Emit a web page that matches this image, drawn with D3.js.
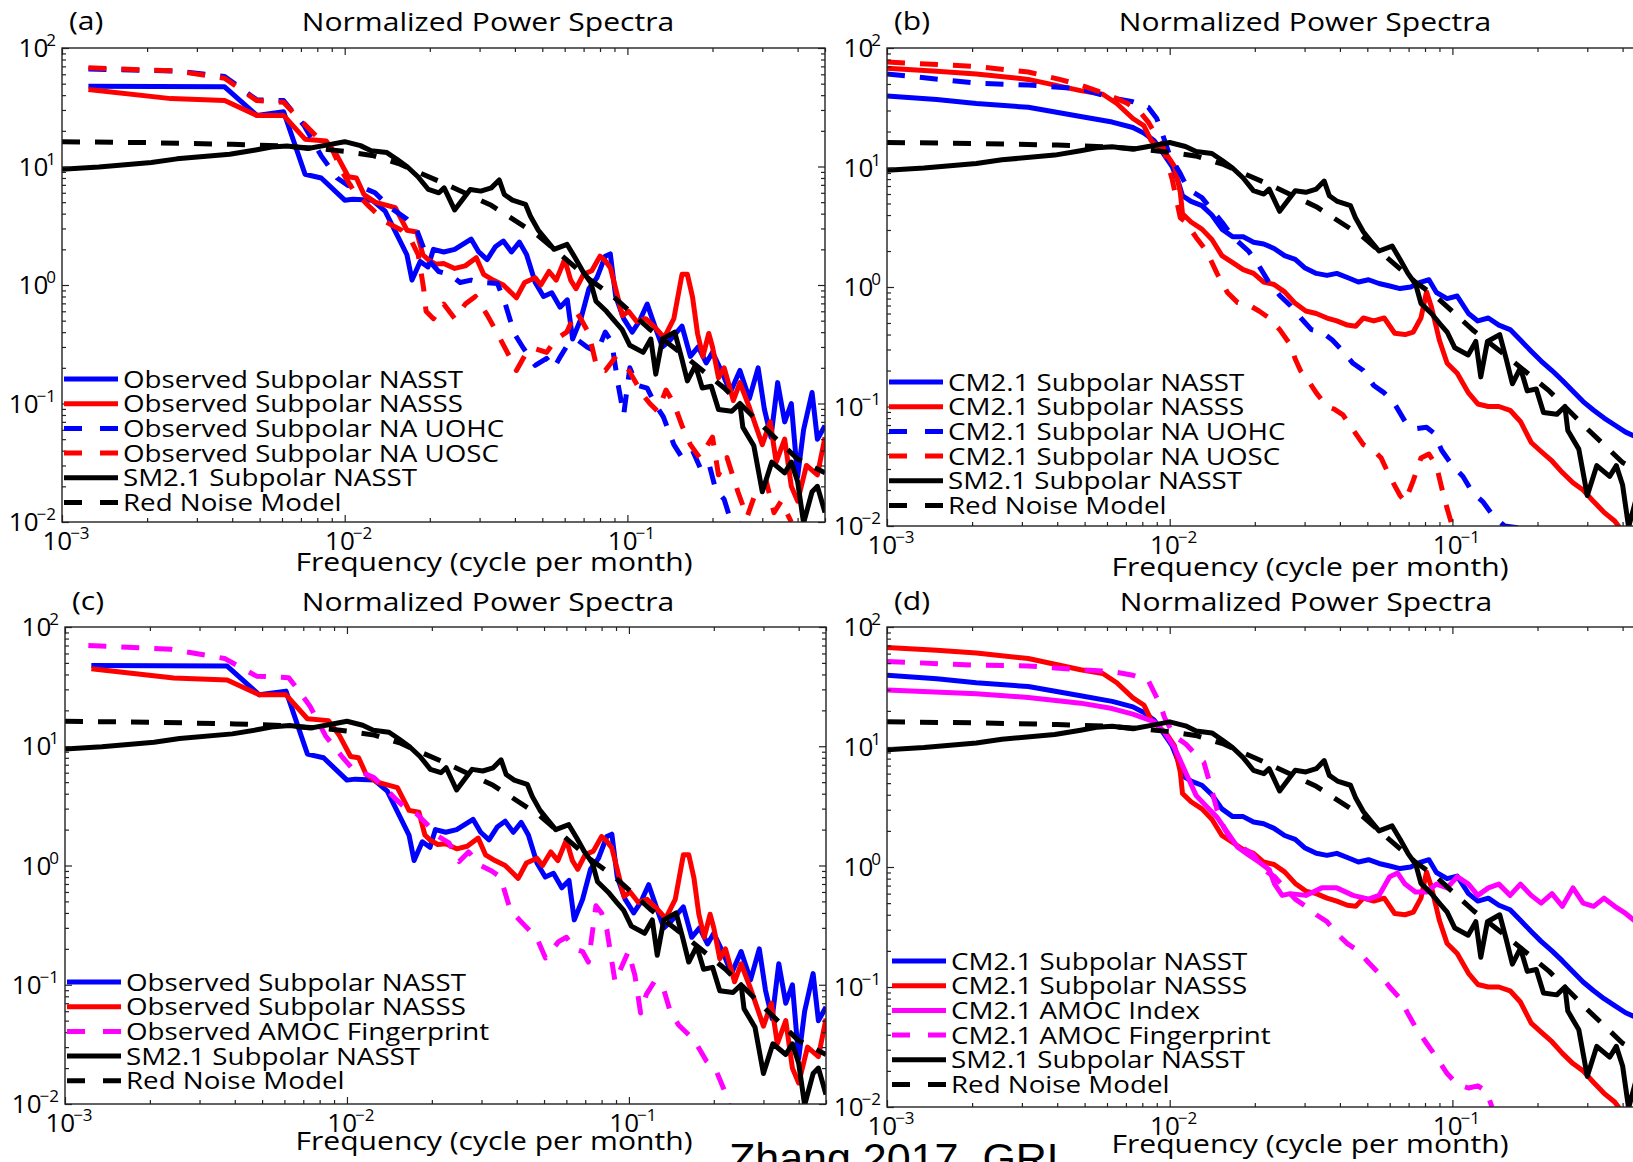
<!DOCTYPE html>
<html>
<head>
<meta charset="utf-8">
<script src="https://cdn.jsdelivr.net/npm/d3@7"></script>
<style>
  html, body { margin: 0; padding: 0; background: #fff; overflow: hidden; }
  svg { display: block; font-family: "Open Sans", sans-serif; }
</style>
</head>
<body>
<svg id="fig" width="1633" height="1162"></svg>
<script>
// ---- data: [frequency (cycle/month), normalized power] ----

const RED_NOISE = [[0.001,16.2],[0.002,15.9],[0.004,15.4],[0.006,14.9],[0.008,14.2],[0.01,13.4],[0.0125,12.4],[0.0155,10.6],[0.0175,9.3],[0.0225,7.2],[0.033,4.7],[0.048,2.65],[0.074,1.1],[0.088,0.82],[0.119,0.43],[0.16,0.25],[0.22,0.135],[0.3,0.065],[0.4,0.034],[0.5,0.026]];

const SM21_NASST = [[0.001,9.5],[0.00135,9.9],[0.00207,10.8],[0.00255,11.6],[0.00392,12.7],[0.00484,13.8],[0.00551,14.6],[0.00626,14.9],[0.00741,14.2],[0.0088,15.3],[0.01,16.2],[0.01137,15.0],[0.0124,13.6],[0.0141,13.1],[0.0153,11.5],[0.01668,9.9],[0.01816,8.2],[0.01977,6.4],[0.02154,6.0],[0.02248,6.6],[0.02448,4.3],[0.0278,6.4],[0.0303,6.2],[0.033,6.6],[0.0352,7.7],[0.0367,5.8],[0.0392,5.2],[0.0436,4.8],[0.0454,3.8],[0.0484,2.9],[0.0516,2.4],[0.055,2.0],[0.0612,2.2],[0.0653,1.7],[0.0696,1.3],[0.0742,1.05],[0.0774,0.73],[0.0843,0.6],[0.0905,0.49],[0.0958,0.42],[0.102,0.31],[0.1137,0.27],[0.121,0.35],[0.126,0.177],[0.133,0.35],[0.147,0.4],[0.155,0.25],[0.163,0.155],[0.174,0.21],[0.184,0.135],[0.198,0.14],[0.21,0.089],[0.234,0.086],[0.25,0.1],[0.256,0.063],[0.28,0.044],[0.3,0.018],[0.324,0.032],[0.36,0.026],[0.38,0.032],[0.4,0.022],[0.42,0.0098],[0.45,0.018],[0.47,0.02],[0.5,0.012]];

const OBS_NASST = [[0.00124,47.5],[0.00376,47],[0.00489,27],[0.00608,29],[0.00724,8.6],[0.00826,8.0],[0.01,5.2],[0.0107,5.3],[0.0125,5.2],[0.0139,4.2],[0.0155,2.5],[0.0166,1.8],[0.0173,1.1],[0.0185,1.58],[0.0197,1.42],[0.0206,2.0],[0.0224,1.9],[0.0245,2.0],[0.028,2.44],[0.0298,1.9],[0.0319,1.64],[0.0341,2.1],[0.0364,2.35],[0.0389,1.9],[0.0415,2.3],[0.044,1.8],[0.0472,1.05],[0.0505,0.8],[0.054,0.86],[0.0578,0.65],[0.0613,0.75],[0.064,0.35],[0.0685,0.52],[0.0731,0.93],[0.078,1.15],[0.0835,1.75],[0.087,1.83],[0.0909,0.8],[0.097,0.52],[0.104,0.4],[0.11,0.49],[0.1175,0.69],[0.125,0.45],[0.133,0.3],[0.141,0.34],[0.156,0.45],[0.167,0.25],[0.178,0.3],[0.19,0.22],[0.2,0.27],[0.217,0.18],[0.231,0.124],[0.25,0.19],[0.27,0.11],[0.29,0.2],[0.305,0.09],[0.322,0.052],[0.34,0.15],[0.36,0.07],[0.38,0.1],[0.4,0.024],[0.42,0.06],[0.45,0.124],[0.47,0.05],[0.5,0.065]];

const OBS_NASSS = [[0.00124,44.7],[0.00243,37.4],[0.00376,36],[0.00489,27],[0.00608,27],[0.00724,17],[0.0086,16.4],[0.0094,12.3],[0.0103,8.2],[0.011,8.0],[0.0117,5.8],[0.0128,5.0],[0.0151,4.5],[0.0166,2.9],[0.018,2.8],[0.0189,1.8],[0.0197,1.64],[0.021,1.5],[0.0224,1.52],[0.0245,1.38],[0.0267,1.45],[0.0292,1.7],[0.031,1.23],[0.0335,1.1],[0.0364,1.0],[0.0405,0.78],[0.0433,1.05],[0.0472,1.15],[0.0494,1.0],[0.0528,1.3],[0.056,1.1],[0.06,1.64],[0.063,1.1],[0.0658,0.93],[0.0699,1.23],[0.0748,1.32],[0.08,1.75],[0.0835,1.6],[0.087,1.4],[0.0909,0.93],[0.096,0.55],[0.101,0.6],[0.108,0.49],[0.116,0.52],[0.125,0.44],[0.135,0.36],[0.146,0.52],[0.156,1.23],[0.163,1.23],[0.17,0.79],[0.177,0.39],[0.185,0.25],[0.194,0.39],[0.2,0.3],[0.21,0.165],[0.22,0.2],[0.237,0.106],[0.25,0.15],[0.27,0.093],[0.3,0.045],[0.32,0.07],[0.336,0.032],[0.36,0.05],[0.38,0.02],[0.4,0.015],[0.43,0.03],[0.47,0.025],[0.5,0.052]];

const OBS_UOHC = [[0.00124,66.4],[0.00254,64],[0.00376,57.5],[0.00489,36.5],[0.00608,36],[0.0072,22],[0.00826,12.3],[0.0094,8.0],[0.0103,6.9],[0.0117,6.6],[0.0128,6.0],[0.0145,4.5],[0.0166,3.6],[0.018,2.9],[0.0197,1.64],[0.0215,1.3],[0.0235,1.23],[0.0256,1.05],[0.028,1.1],[0.0305,1.05],[0.0347,1.03],[0.037,0.69],[0.0398,0.39],[0.043,0.29],[0.0472,0.21],[0.0518,0.24],[0.055,0.2],[0.058,0.25],[0.0613,0.31],[0.067,0.34],[0.072,0.3],[0.078,0.27],[0.0835,0.4],[0.088,0.33],[0.0928,0.143],[0.097,0.08],[0.102,0.2],[0.108,0.143],[0.1175,0.135],[0.125,0.1],[0.134,0.077],[0.146,0.045],[0.156,0.035],[0.17,0.04],[0.183,0.027],[0.195,0.03],[0.205,0.019],[0.22,0.0155],[0.23,0.011],[0.26,0.009]];

const OBS_UOSC = [[0.00124,68],[0.00254,64],[0.00376,55.5],[0.00489,36],[0.00608,34.8],[0.00693,25],[0.0079,18.2],[0.009,14.2],[0.0098,9],[0.0107,6.4],[0.0122,4.6],[0.014,3.4],[0.0159,2.9],[0.0173,2.3],[0.0182,1.8],[0.019,0.95],[0.0194,0.6],[0.0206,0.52],[0.0224,0.69],[0.0245,0.52],[0.0267,0.69],[0.029,0.8],[0.0319,0.56],[0.0347,0.39],[0.037,0.29],[0.0398,0.21],[0.0405,0.19],[0.044,0.27],[0.0472,0.29],[0.0518,0.27],[0.056,0.35],[0.061,0.4],[0.0658,0.6],[0.069,0.5],[0.0731,0.39],[0.078,0.2],[0.0835,0.19],[0.09,0.24],[0.1,0.2],[0.113,0.12],[0.12,0.1],[0.128,0.086],[0.137,0.13],[0.146,0.1],[0.156,0.065],[0.167,0.045],[0.18,0.035],[0.2,0.052],[0.21,0.025],[0.225,0.035],[0.246,0.018],[0.265,0.011],[0.28,0.016],[0.31,0.022],[0.33,0.012],[0.35,0.015],[0.38,0.01]];

const OBS_AMOC_FP = [[0.00121,70],[0.00237,65],[0.00368,54.5],[0.00478,38.7],[0.00621,37.6],[0.0067,30],[0.0074,21.6],[0.0084,12.2],[0.0096,8.2],[0.0105,6.4],[0.0114,6.0],[0.0124,5.5],[0.0136,4.5],[0.0149,3.6],[0.0162,3.0],[0.0177,2.7],[0.0193,2.2],[0.021,1.77],[0.023,1.55],[0.025,1.08],[0.027,1.3],[0.0298,1.0],[0.0326,0.9],[0.035,0.8],[0.038,0.42],[0.0435,0.3],[0.047,0.25],[0.0506,0.168],[0.0563,0.23],[0.06,0.25],[0.0642,0.2],[0.0685,0.19],[0.0718,0.155],[0.0764,0.46],[0.08,0.4],[0.0835,0.29],[0.0893,0.106],[0.0995,0.19],[0.105,0.12],[0.11,0.058],[0.1153,0.083],[0.123,0.106],[0.132,0.096],[0.14,0.06],[0.15,0.046],[0.171,0.034],[0.188,0.023],[0.204,0.019],[0.218,0.013],[0.227,0.0097]];

const CM21_NASST = [[0.001,39.6],[0.0015,37],[0.00207,34.3],[0.00316,31.9],[0.00484,26.7],[0.00626,24.0],[0.00741,21.6],[0.0081,19.4],[0.0088,16.8],[0.0092,14.6],[0.0096,12.6],[0.0102,10.2],[0.0107,7.7],[0.0111,5.8],[0.0119,5.2],[0.013,4.8],[0.0141,4.0],[0.0153,3.05],[0.0167,2.63],[0.0182,2.63],[0.0198,2.37],[0.0215,2.29],[0.0234,2.1],[0.0255,1.83],[0.0278,1.7],[0.03,1.45],[0.033,1.3],[0.036,1.25],[0.039,1.3],[0.0425,1.2],[0.0465,1.1],[0.0505,1.15],[0.055,1.07],[0.06,1.02],[0.0653,0.97],[0.0712,1.0],[0.0774,1.1],[0.0826,1.15],[0.0878,0.9],[0.0958,0.8],[0.104,0.84],[0.114,0.6],[0.123,0.52],[0.134,0.55],[0.146,0.48],[0.16,0.44],[0.174,0.36],[0.19,0.29],[0.206,0.24],[0.225,0.2],[0.245,0.165],[0.267,0.134],[0.29,0.11],[0.316,0.093],[0.344,0.08],[0.375,0.07],[0.41,0.061],[0.445,0.056],[0.5,0.05]];

const CM21_NASSS = [[0.001,67.6],[0.0015,64],[0.00207,60.7],[0.00316,54.6],[0.00484,44],[0.0058,41],[0.0065,34.3],[0.00741,25.7],[0.0081,22.4],[0.0086,16.8],[0.0092,14.6],[0.0098,12.6],[0.0104,10.2],[0.0109,6.2],[0.0111,4.1],[0.0119,3.5],[0.013,3.05],[0.0141,2.5],[0.0153,1.83],[0.0167,1.6],[0.0182,1.4],[0.0198,1.3],[0.0215,1.1],[0.0234,1.05],[0.0255,0.91],[0.0278,0.73],[0.0303,0.63],[0.033,0.6],[0.036,0.55],[0.039,0.52],[0.0425,0.48],[0.0455,0.47],[0.0484,0.55],[0.0527,0.52],[0.0574,0.55],[0.0625,0.41],[0.068,0.4],[0.0727,0.42],[0.0774,0.55],[0.081,0.91],[0.0843,0.68],[0.0899,0.36],[0.0958,0.23],[0.104,0.19],[0.114,0.13],[0.123,0.105],[0.134,0.1],[0.146,0.1],[0.16,0.093],[0.174,0.075],[0.19,0.05],[0.206,0.042],[0.225,0.035],[0.245,0.028],[0.267,0.023],[0.29,0.02],[0.316,0.016],[0.344,0.013],[0.375,0.011],[0.4,0.009]];

const CM21_UOHC = [[0.001,60.7],[0.00207,50.8],[0.00316,49],[0.00484,45.6],[0.00626,38.2],[0.00741,35.5],[0.0084,31.9],[0.009,25.7],[0.0094,19.4],[0.01,12.6],[0.0109,8.9],[0.0114,7.2],[0.0121,6.2],[0.013,5.6],[0.014,4.5],[0.0153,3.5],[0.0167,2.63],[0.019,2.0],[0.0207,1.5],[0.0224,1.1],[0.0245,0.85],[0.0267,0.7],[0.0291,0.55],[0.0317,0.44],[0.0345,0.42],[0.0376,0.36],[0.041,0.29],[0.0445,0.23],[0.0484,0.2],[0.0527,0.15],[0.0574,0.13],[0.0625,0.105],[0.068,0.075],[0.074,0.065],[0.081,0.067],[0.086,0.06],[0.0916,0.043],[0.1,0.032],[0.109,0.026],[0.118,0.019],[0.128,0.016],[0.14,0.012],[0.153,0.01],[0.174,0.0096]];

const CM21_UOSC = [[0.001,76.3],[0.00207,70],[0.00316,63],[0.00408,54.6],[0.00484,49],[0.006,41],[0.0071,34.3],[0.0078,29.7],[0.0084,24],[0.0095,14.6],[0.0102,8],[0.0109,3.8],[0.0114,3.5],[0.0124,2.6],[0.0135,2.0],[0.0147,1.3],[0.016,0.9],[0.0174,0.74],[0.019,0.71],[0.0207,0.63],[0.0225,0.55],[0.0245,0.44],[0.0267,0.33],[0.0278,0.25],[0.029,0.2],[0.0309,0.165],[0.033,0.13],[0.036,0.1],[0.0382,0.095],[0.041,0.085],[0.0445,0.064],[0.0484,0.048],[0.0527,0.043],[0.056,0.037],[0.06,0.026],[0.0653,0.018],[0.068,0.016],[0.0727,0.024],[0.0774,0.037],[0.0826,0.04],[0.0878,0.032],[0.0916,0.021],[0.0958,0.014],[0.1,0.0099]];

const CM21_AMOC_INDEX = [[0.001,29.9],[0.00207,27.8],[0.00316,25.9],[0.00484,23.2],[0.00626,20.9],[0.00741,18.8],[0.0088,16.3],[0.0096,13.2],[0.0104,9.9],[0.0114,6.1],[0.0124,3.95],[0.0135,3.2],[0.0147,2.6],[0.016,1.94],[0.0174,1.46],[0.019,1.26],[0.0207,1.1],[0.0225,0.95],[0.0235,0.72],[0.025,0.58],[0.0267,0.6],[0.0303,0.58],[0.0345,0.67],[0.039,0.67],[0.0445,0.58],[0.0505,0.54],[0.055,0.58],[0.06,0.83],[0.064,0.89],[0.068,0.72],[0.074,0.62],[0.081,0.62],[0.0878,0.72],[0.0958,0.67],[0.104,0.83],[0.114,0.72],[0.123,0.58],[0.134,0.67],[0.146,0.72],[0.16,0.58],[0.174,0.72],[0.19,0.58],[0.206,0.5],[0.225,0.6],[0.245,0.47],[0.267,0.67],[0.29,0.5],[0.316,0.47],[0.344,0.55],[0.375,0.47],[0.41,0.41],[0.445,0.35],[0.5,0.38]];

const CM21_AMOC_FP = [[0.001,51.6],[0.00207,48],[0.00316,47.4],[0.00484,44],[0.00626,42.6],[0.00741,39.6],[0.0084,35.7],[0.0092,23.3],[0.0096,17.5],[0.0104,12.3],[0.0114,10.6],[0.0124,8.6],[0.0132,7.5],[0.014,4.6],[0.0147,3.0],[0.0156,2.1],[0.0166,1.65],[0.0181,1.45],[0.0198,1.27],[0.0215,0.95],[0.0235,0.83],[0.0255,0.67],[0.0278,0.54],[0.0303,0.47],[0.033,0.4],[0.036,0.35],[0.039,0.28],[0.0425,0.23],[0.0465,0.2],[0.0505,0.16],[0.055,0.13],[0.06,0.1],[0.0653,0.08],[0.0696,0.06],[0.0742,0.046],[0.081,0.034],[0.0878,0.026],[0.0958,0.019],[0.104,0.0155],[0.114,0.0144],[0.123,0.015],[0.132,0.0135],[0.138,0.01]];

const X_TICKS = [1e-3, 1e-2, 1e-1];
const X_TICK_EXP = ["\u22123", "\u22122", "\u22121"];
const Y_TICKS = [1e2, 1e1, 1e0, 1e-1, 1e-2];
const Y_TICK_EXP = ["2", "1", "0", "\u22121", "\u22122"];

// ---- styles / layout ----
const BLUE = "#0000ff", RED = "#ff0000", MAG = "#ff00ff", BLACK = "#000000";
const SX = 1.18;               // horizontal stretch of the original lettering
const LW = 5;
const DASH = "18,15";

const common = [
  { data: SM21_NASST, label: "SM2.1 Subpolar NASST", color: BLACK, dash: false },
  { data: RED_NOISE, label: "Red Noise Model", color: BLACK, dash: true },
];

const PANELS = [
  { tag: "(a)", box: [62, 48, 825, 522], titleX: 488, titleY: 31, xlabX: 494, xlabY: 571, legX: 64, legY: 379,
    series: [
      { data: OBS_NASST, label: "Observed Subpolar NASST", color: BLUE, dash: false },
      { data: OBS_NASSS, label: "Observed Subpolar NASSS", color: RED, dash: false },
      { data: OBS_UOHC, label: "Observed Subpolar NA UOHC", color: BLUE, dash: true },
      { data: OBS_UOSC, label: "Observed Subpolar NA UOSC", color: RED, dash: true },
      ...common] },
  { tag: "(b)", box: [887, 48, 1650, 526], titleX: 1305, titleY: 31, xlabX: 1310, xlabY: 576, legX: 889, legY: 382,
    series: [
      { data: CM21_NASST, label: "CM2.1 Subpolar NASST", color: BLUE, dash: false },
      { data: CM21_NASSS, label: "CM2.1 Subpolar NASSS", color: RED, dash: false },
      { data: CM21_UOHC, label: "CM2.1 Subpolar NA UOHC", color: BLUE, dash: true },
      { data: CM21_UOSC, label: "CM2.1 Subpolar NA UOSC", color: RED, dash: true },
      ...common] },
  { tag: "(c)", box: [65, 627, 826, 1104], titleX: 488, titleY: 611, xlabX: 494, xlabY: 1150, legX: 67, legY: 982,
    series: [
      { data: OBS_NASST, label: "Observed Subpolar NASST", color: BLUE, dash: false },
      { data: OBS_NASSS, label: "Observed Subpolar NASSS", color: RED, dash: false },
      { data: OBS_AMOC_FP, label: "Observed AMOC Fingerprint", color: MAG, dash: true },
      ...common] },
  { tag: "(d)", box: [887, 627, 1650, 1107], titleX: 1306, titleY: 611, xlabX: 1310, xlabY: 1153, legX: 892, legY: 961,
    series: [
      { data: CM21_NASST, label: "CM2.1 Subpolar NASST", color: BLUE, dash: false },
      { data: CM21_NASSS, label: "CM2.1 Subpolar NASSS", color: RED, dash: false },
      { data: CM21_AMOC_INDEX, label: "CM2.1 AMOC Index", color: MAG, dash: false },
      { data: CM21_AMOC_FP, label: "CM2.1 AMOC Fingerprint", color: MAG, dash: true },
      ...common] },
];

const svg = d3.select("#fig");

function txt(g, x, y, s, size, anchor = "start") {
  return g.append("text")
    .attr("transform", `translate(${x},${y}) scale(${SX},1)`)
    .attr("text-anchor", anchor)
    .style("font-size", size + "px")
    .text(s);
}

function powLabel(g, x, y, exp, anchor) {
  const t = g.append("text")
    .attr("transform", `translate(${x},${y})`)
    .attr("text-anchor", anchor)
    .style("font-size", "26px");
  t.append("tspan").text("10");
  t.append("tspan").attr("dx", -2).attr("dy", -11).style("font-size", "17px").text(exp);
}

PANELS.forEach((p, i) => {
  const [x0, y0, x1, y1] = p.box;
  const x = d3.scaleLog().domain([1e-3, 0.5]).range([x0, x1]);
  const y = d3.scaleLog().domain([1e-2, 1e2]).range([y1, y0]);
  const g = svg.append("g");

  g.append("clipPath").attr("id", "clip" + i)
    .append("rect").attr("x", x0).attr("y", y0).attr("width", x1 - x0).attr("height", y1 - y0);

  const line = d3.line().x((d) => x(d[0])).y((d) => y(d[1]));

  g.append("g").attr("clip-path", `url(#clip${i})`)
    .selectAll("path")
    .data(p.series)
    .join("path")
    .attr("d", (d) => line(d.data))
    .attr("fill", "none")
    .attr("stroke", (d) => d.color)
    .attr("stroke-width", LW)
    .attr("stroke-linejoin", "round")
    .attr("stroke-dasharray", (d) => (d.dash ? DASH : null));

  // ticks on all four sides, pointing inwards
  const minorX = x.ticks().filter((v) => !X_TICKS.includes(v));
  const minorY = y.ticks().filter((v) => !Y_TICKS.includes(v));
  const axes = [
    [d3.axisBottom(x), `translate(0,${y1})`, minorX, X_TICKS],
    [d3.axisTop(x), `translate(0,${y0})`, minorX, X_TICKS],
    [d3.axisLeft(y), `translate(${x0},0)`, minorY, Y_TICKS],
    [d3.axisRight(y), `translate(${x1},0)`, minorY, Y_TICKS],
  ];
  axes.forEach(([ax, tr, minor, major]) => {
    const a1 = g.append("g").attr("transform", tr)
      .call(ax.tickValues(minor).tickSize(-4).tickFormat(""));
    const a2 = g.append("g").attr("transform", tr)
      .call(ax.tickValues(major).tickSize(-7).tickFormat(""));
    [a1, a2].forEach((a) => {
      a.select(".domain").remove();
      a.selectAll("line").attr("stroke", "#222").attr("stroke-width", 1.2);
    });
  });

  g.append("rect")
    .attr("x", x0).attr("y", y0).attr("width", x1 - x0).attr("height", y1 - y0)
    .attr("fill", "none").attr("stroke", "#222").attr("stroke-width", 1.4);

  X_TICKS.forEach((v, k) => powLabel(g, x(v) + 4, y1 + 28, X_TICK_EXP[k], "middle"));
  Y_TICKS.forEach((v, k) => powLabel(g, x0 - 6, y(v) + 9, Y_TICK_EXP[k], "end"));

  txt(g, p.titleX, p.titleY, "Normalized Power Spectra", 25.5, "middle");
  txt(g, x0 + 7, p.titleY - 1, p.tag, 25.5);
  txt(g, p.xlabX, p.xlabY, "Frequency (cycle per month)", 25.5, "middle");

  // legend (no box)
  const leg = g.append("g")
    .selectAll("g")
    .data(p.series)
    .join("g")
    .attr("transform", (d, k) => `translate(${p.legX},${p.legY + k * 24.7})`);
  leg.append("line")
    .attr("x1", 0).attr("x2", 54)
    .attr("stroke", (d) => d.color)
    .attr("stroke-width", LW)
    .attr("stroke-dasharray", (d) => (d.dash ? "18,18" : null));
  leg.each(function (d) {
    txt(d3.select(this), 59, 8.5, d.label, 23.5);
  });
});

svg.append("text")
  .attr("x", 729).attr("y", 1173)
  .style("font-family", "'Liberation Sans', Arial, sans-serif")
  .style("font-size", "43px")
  .text("Zhang 2017, GRL");
</script>
</body>
</html>
